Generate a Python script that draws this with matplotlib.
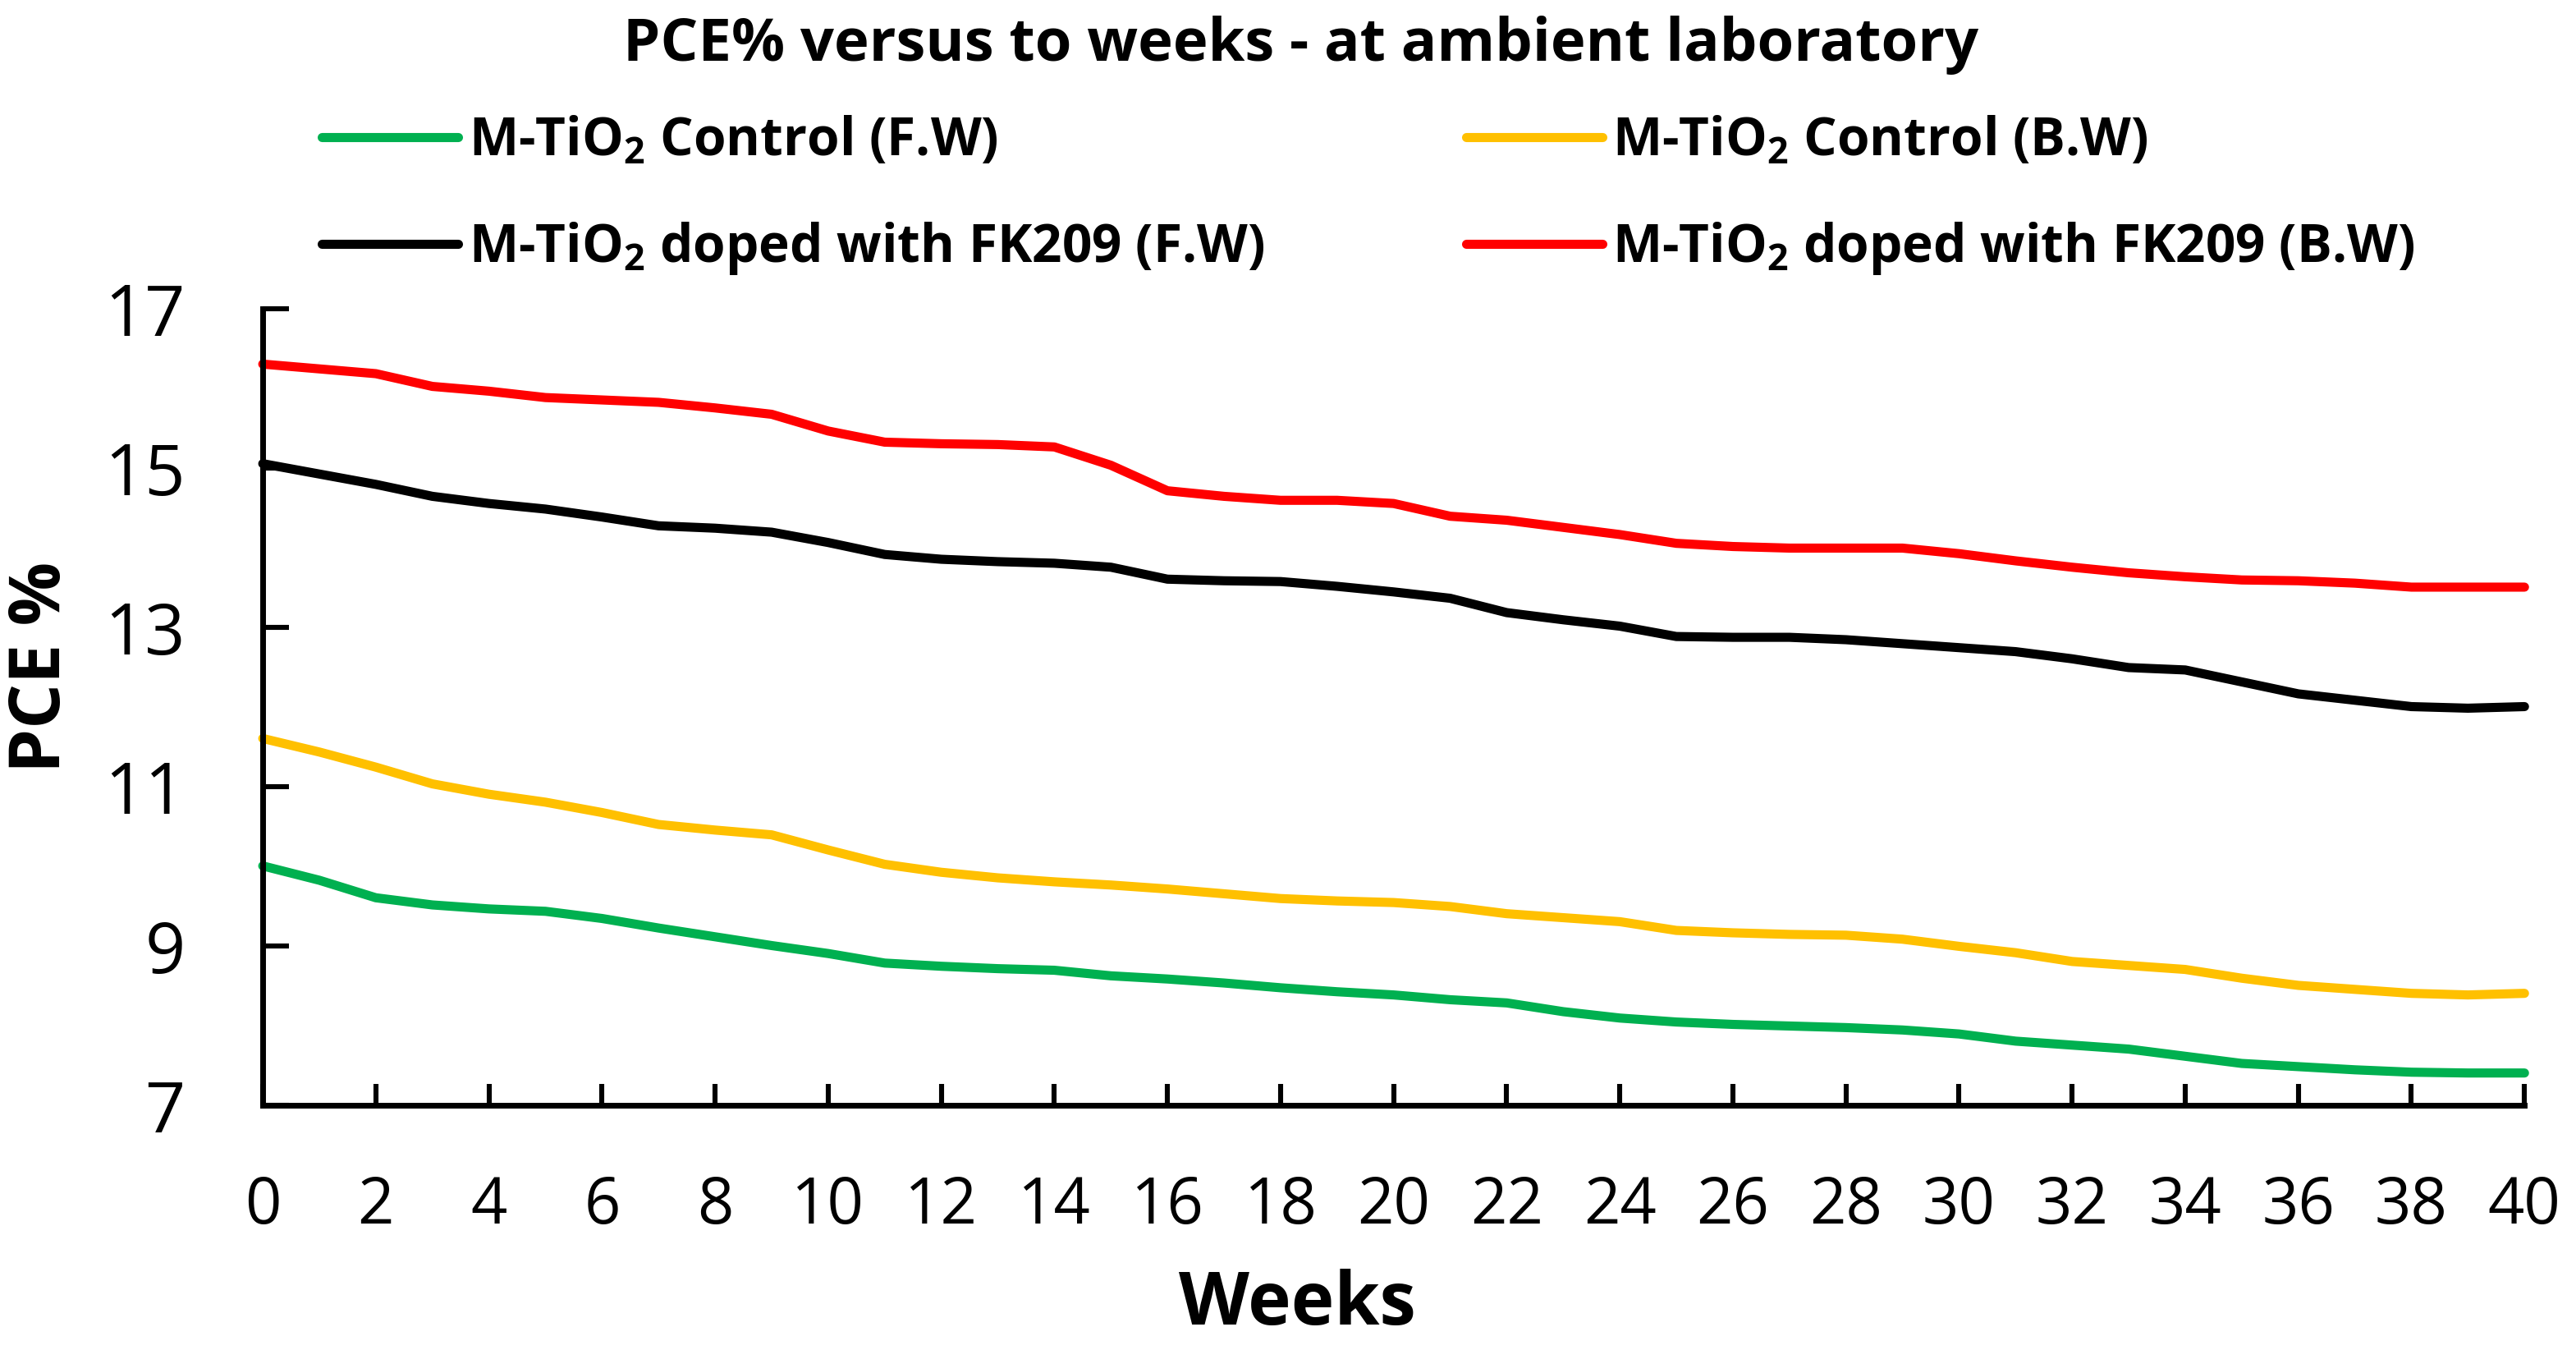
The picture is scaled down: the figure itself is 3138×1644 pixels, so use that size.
import matplotlib
matplotlib.use("Agg")
import matplotlib.pyplot as plt

weeks = list(range(0, 41))

green_fw = [10.01, 9.83, 9.61, 9.52, 9.47, 9.44, 9.35, 9.23, 9.12, 9.01,
            8.91, 8.79, 8.75, 8.72, 8.70, 8.63, 8.59, 8.54, 8.48, 8.43,
            8.39, 8.33, 8.29, 8.18, 8.10, 8.05, 8.02, 8.00, 7.98, 7.95,
            7.90, 7.81, 7.76, 7.71, 7.62, 7.53, 7.49, 7.45, 7.42, 7.41, 7.41]

yellow_bw = [11.61, 11.44, 11.25, 11.04, 10.91, 10.81, 10.68, 10.53, 10.46, 10.40,
             10.21, 10.03, 9.93, 9.86, 9.81, 9.77, 9.72, 9.66, 9.60, 9.57,
             9.55, 9.50, 9.41, 9.36, 9.31, 9.20, 9.17, 9.15, 9.14, 9.09,
             9.00, 8.92, 8.81, 8.76, 8.71, 8.60, 8.51, 8.46, 8.41, 8.39, 8.41]

black_fw = [15.06, 14.93, 14.80, 14.65, 14.56, 14.49, 14.39, 14.28, 14.25, 14.20,
            14.07, 13.92, 13.86, 13.83, 13.81, 13.76, 13.61, 13.59, 13.58, 13.52,
            13.45, 13.37, 13.19, 13.10, 13.02, 12.89, 12.88, 12.88, 12.85, 12.80,
            12.75, 12.70, 12.61, 12.50, 12.47, 12.32, 12.17, 12.09, 12.01, 11.99, 12.01]

red_bw = [16.31, 16.25, 16.19, 16.03, 15.97, 15.89, 15.86, 15.83, 15.76, 15.68,
          15.47, 15.33, 15.31, 15.30, 15.27, 15.04, 14.72, 14.65, 14.60, 14.60,
          14.56, 14.40, 14.35, 14.26, 14.17, 14.06, 14.02, 14.00, 14.00, 14.00,
          13.93, 13.84, 13.76, 13.69, 13.64, 13.60, 13.59, 13.56, 13.51, 13.51, 13.51]

labels = ["M-TiO$_2$ Control (F.W)", "M-TiO$_2$ Control (B.W)",
          "M-TiO$_2$ doped with FK209 (F.W)", "M-TiO$_2$ doped with FK209 (B.W)"]
colors = ["#00B050", "#FFC000", "#000000", "#FF0000"]
series = [green_fw, yellow_bw, black_fw, red_bw]

x_ticks = list(range(0, 41, 2))
y_ticks = [7, 9, 11, 13, 15, 17]

plt.rcParams['font.family'] = ['Open Sans', 'DejaVu Sans']
plt.rcParams['mathtext.default'] = 'regular'

fig = plt.figure(figsize=(15.69, 8.22), dpi=200)
ax = fig.add_axes([0.102, 0.181, 0.878, 0.590])

lines = []
for vals, c, lab in zip(series, colors, labels):
    ln, = ax.plot(weeks, vals, color=c, lw=4.0, label=lab,
                  solid_capstyle='round', solid_joinstyle='round', clip_on=False)
    lines.append(ln)

ax.set_xlim(0, 40)
ax.set_ylim(7, 17)
ax.set_xticks(x_ticks)
ax.set_yticks(y_ticks)
for s in ['top', 'right']:
    ax.spines[s].set_visible(False)
for s in ['left', 'bottom']:
    ax.spines[s].set_linewidth(2.5)
ax.tick_params(axis='x', direction='in', length=9.5, width=2.2, pad=30, labelsize=28)
ax.tick_params(axis='y', direction='in', length=11.5, width=2.2, pad=34, labelsize=31)

ax.set_ylabel("PCE %", fontsize=31, fontweight='bold', va='center')
ax.yaxis.set_label_coords(-0.0977, 0.5505)
ax.set_xlabel("Weeks", fontsize=32, fontweight='bold', va='center')
ax.xaxis.set_label_coords(0.4575, -0.2515)

fig.text(0.505, 0.9665, "PCE% versus to weeks - at ambient laboratory",
         ha='center', va='center', fontsize=26, fontweight='bold')

leg_pos = [(0.125, 0.895), (0.569, 0.895), (0.125, 0.816), (0.569, 0.816)]
for ln, (lx, ly) in zip(lines, leg_pos):
    fig.legend(handles=[ln], loc='center left', bbox_to_anchor=(lx, ly),
               frameon=False, handlelength=2.6, handletextpad=0.2,
               borderaxespad=0, borderpad=0,
               prop={'size': 23, 'weight': 'bold'})

fig.savefig("out.png", dpi=200)
